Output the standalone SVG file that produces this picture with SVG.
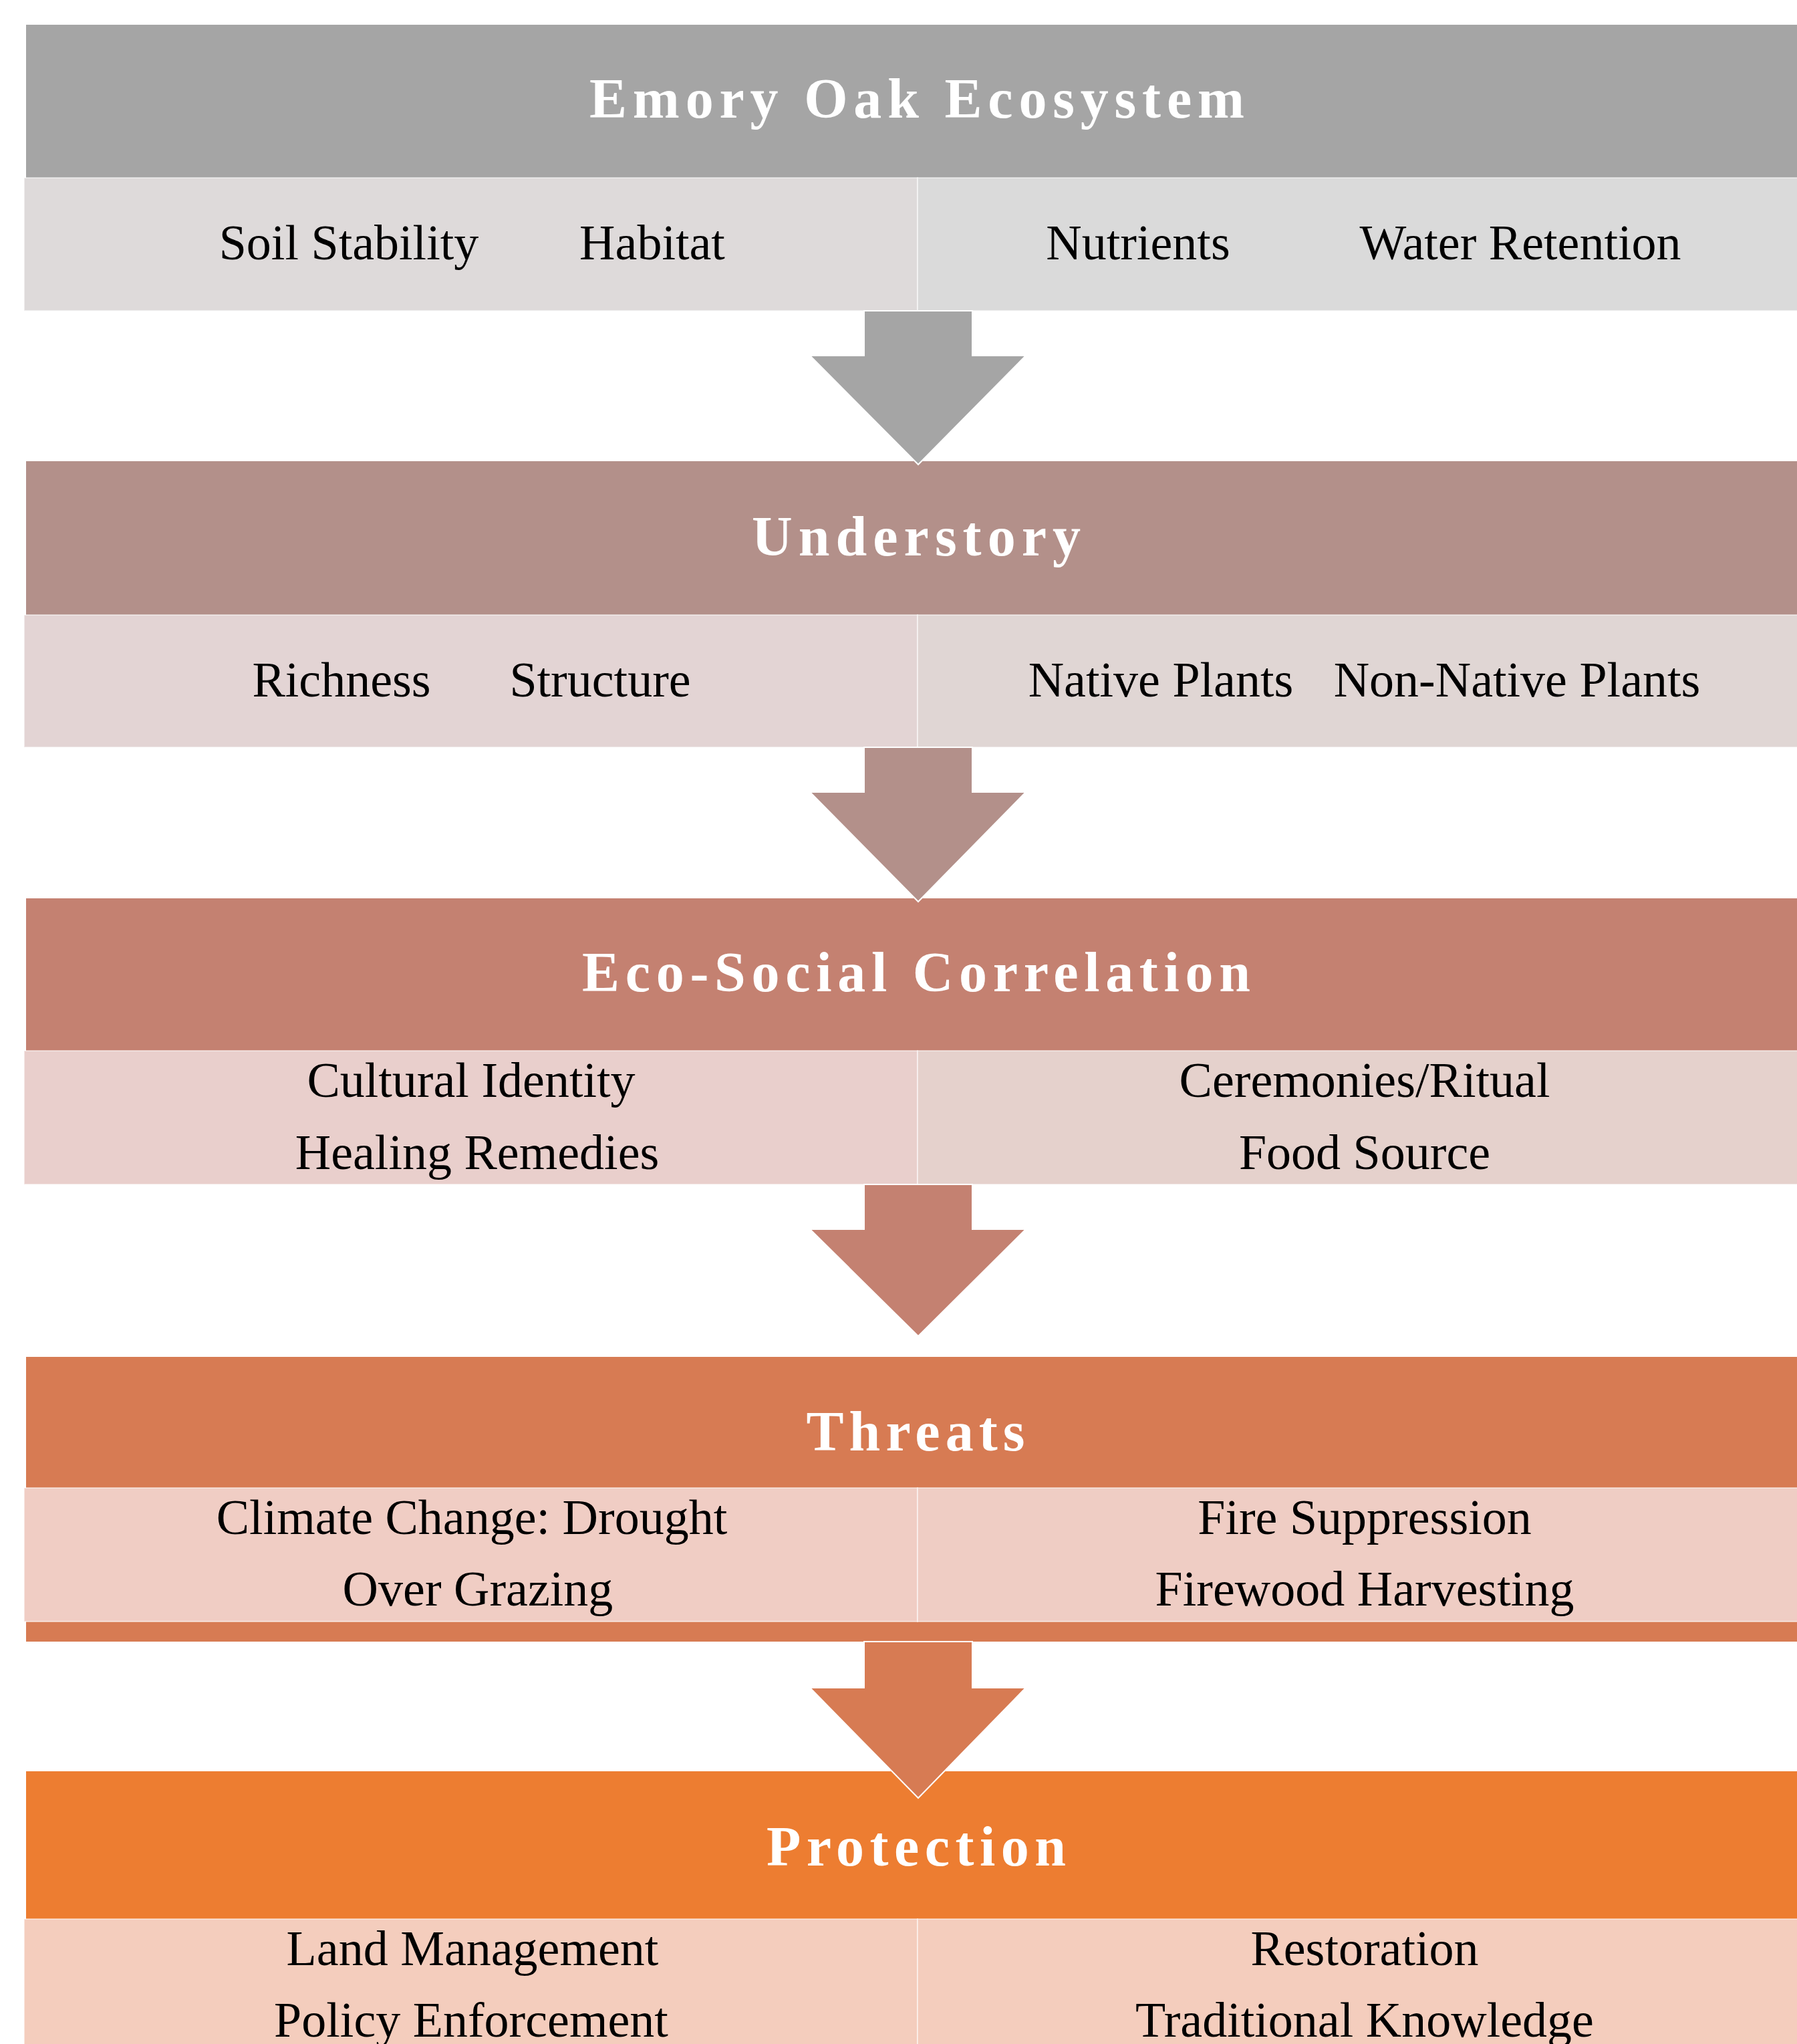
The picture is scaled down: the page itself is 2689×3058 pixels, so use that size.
<svg xmlns="http://www.w3.org/2000/svg" width="2689" height="3058" viewBox="0 0 2689 3058">
<style>
.title{font-family:"Liberation Serif","Times New Roman",serif;font-weight:bold;font-size:84px;fill:#ffffff;text-anchor:middle}
.item{font-family:"Liberation Serif","Times New Roman",serif;font-size:74px;fill:#000000;text-anchor:middle}
.cell{stroke:#ffffff;stroke-opacity:0.5;stroke-width:2}
.arrow{stroke:#ffffff;stroke-width:2;stroke-linejoin:miter}
</style>
<rect x="0" y="0" width="2689" height="3058" fill="#ffffff"/>

<g id="node-emory">
<rect x="39" y="37" width="2660" height="229" fill="#A5A5A5"/>
<rect class="cell" x="36" y="266" width="1337" height="199" fill="#DEDADA"/>
<rect class="cell" x="1373" y="266" width="1330" height="199" fill="#DADADA"/>
<text class="title" x="1372" y="176" textLength="980" lengthAdjust="spacing">Emory Oak Ecosystem</text>
<text class="item" x="522" y="388">Soil Stability</text>
<text class="item" x="976" y="388">Habitat</text>
<text class="item" x="1703" y="388">Nutrients</text>
<text class="item" x="2275" y="388">Water Retention</text>
</g>

<g id="node-understory">
<rect x="39" y="690" width="2660" height="230" fill="#B3908A"/>
<rect class="cell" x="36" y="920" width="1337" height="198" fill="#E3D4D4"/>
<rect class="cell" x="1373" y="920" width="1330" height="198" fill="#E0D6D4"/>
<text class="title" x="1371" y="831" textLength="492" lengthAdjust="spacing">Understory</text>
<text class="item" x="511" y="1042">Richness</text>
<text class="item" x="898" y="1042">Structure</text>
<text class="item" x="1737" y="1042">Native Plants</text>
<text class="item" x="2270" y="1042">Non-Native Plants</text>
</g>

<g id="node-ecosocial">
<rect x="39" y="1344" width="2660" height="228" fill="#C48171"/>
<rect class="cell" x="36" y="1572" width="1337" height="200" fill="#E9CFCC"/>
<rect class="cell" x="1373" y="1572" width="1330" height="200" fill="#E5D1CC"/>
<text class="title" x="1371" y="1483" textLength="1000" lengthAdjust="spacing">Eco-Social Correlation</text>
<text class="item" x="705" y="1641">Cultural Identity</text>
<text class="item" x="714" y="1749">Healing Remedies</text>
<text class="item" x="2042" y="1641">Ceremonies/Ritual</text>
<text class="item" x="2042" y="1749">Food Source</text>
</g>

<g id="node-threats">
<rect x="39" y="2030" width="2660" height="426" fill="#D77B53"/>
<rect class="cell" x="36" y="2226" width="1337" height="200" fill="#F0CDC4"/>
<rect class="cell" x="1373" y="2226" width="1330" height="200" fill="#EFCDC4"/>
<text class="title" x="1370" y="2170" textLength="327" lengthAdjust="spacing">Threats</text>
<text class="item" x="706" y="2295">Climate Change: Drought</text>
<text class="item" x="715" y="2402">Over Grazing</text>
<text class="item" x="2042" y="2295">Fire Suppression</text>
<text class="item" x="2042" y="2402">Firewood Harvesting</text>
</g>

<g id="node-protection">
<rect x="39" y="2650" width="2660" height="221" fill="#ED7D31"/>
<rect class="cell" x="36" y="2871" width="1337" height="200" fill="#F4CDBD"/>
<rect class="cell" x="1373" y="2871" width="1330" height="200" fill="#F4CDBD"/>
<text class="title" x="1371" y="2791" textLength="448" lengthAdjust="spacing">Protection</text>
<text class="item" x="707" y="2940">Land Management</text>
<text class="item" x="705" y="3047">Policy Enforcement</text>
<text class="item" x="2042" y="2940">Restoration</text>
<text class="item" x="2042" y="3047">Traditional Knowledge</text>
</g>

<g id="connectors">
<polygon class="arrow" fill="#A5A5A5" points="1293,465 1455,465 1455,532 1535,532 1374,695 1212,532 1293,532"/>
<polygon class="arrow" fill="#B3908A" points="1293,1118 1455,1118 1455,1185 1535,1185 1374,1349 1212,1185 1293,1185"/>
<polygon class="arrow" fill="#C48171" points="1293,1772 1455,1772 1455,1839 1535,1839 1374,1999 1212,1839 1293,1839"/>
<polygon class="arrow" fill="#D77B53" points="1293,2456 1455,2456 1455,2525 1535,2525 1374,2690 1212,2525 1293,2525"/>
</g>
</svg>
